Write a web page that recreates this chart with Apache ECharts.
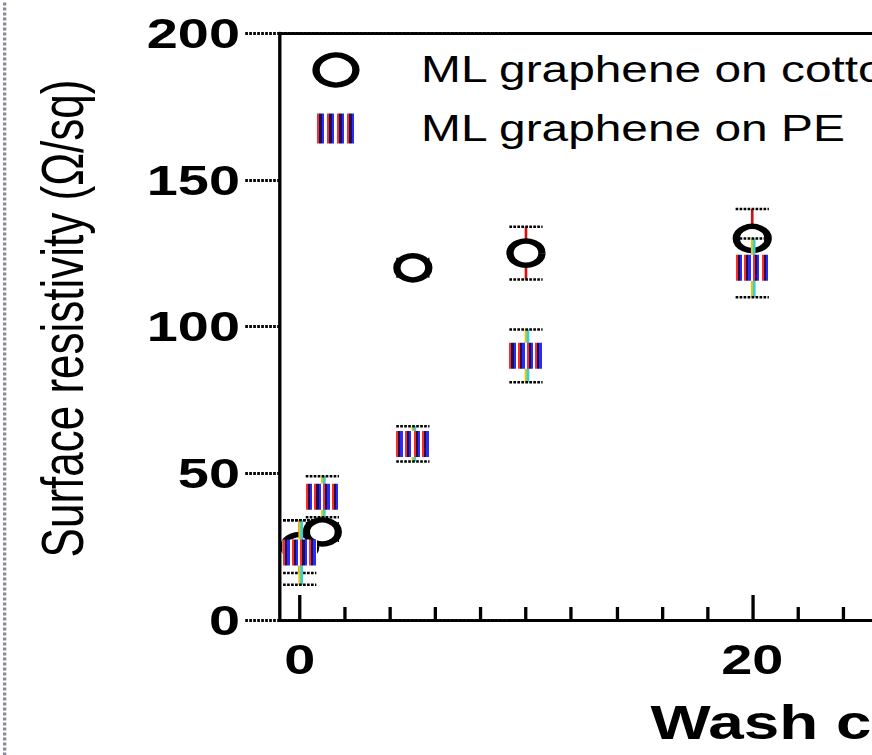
<!DOCTYPE html>
<html>
<head>
<meta charset="utf-8">
<script src="https://cdn.jsdelivr.net/npm/echarts@6/dist/echarts.min.js"></script>
<style>
html,body{margin:0;padding:0;background:#fff;overflow:hidden;}
#wrap{width:872px;height:755px;overflow:hidden;position:relative;background:#fff;}
#chart{width:1200px;height:755px;transform:scaleX(1.3293);transform-origin:0 0;}
</style>
</head>
<body>
<div id="wrap"><div id="chart"></div></div>
<script>
// ---- data ----
const washCycles = [0, 1, 5, 10, 20];
const cottonValues = [25, 30, 120, 125, 130];
const cottonErrors = [9, 3, 3, 9, 10];
const peValues = [23, 42, 60, 90, 120];
const peErrors = [11, 7, 6, 9, 10];
const seriesNames = ['ML graphene on cotton', 'ML graphene on PE'];
const yTickValues = [0, 50, 100, 150, 200];
const xLabelValues = [0, 20, 40];
const xMinorTickValues = [2, 4, 6, 8, 10, 12, 14, 16, 18, 22, 24, 26, 28, 30, 32, 34, 36, 38, 42, 44, 46, 48];
const xAxisTitle = 'Wash cycles';
const yAxisTitle = 'Surface resistivity (Ω/sq)';

const chart = echarts.init(document.getElementById('chart'), null, {renderer: 'svg'});

function stripeGradient() {
  const stops = [{offset: 0, color: '#ffffff'}];
  for (let i = 0; i < 4; i++) {
    const b = i / 4 + 0.02;
    stops.push({offset: b, color: '#ffffff'});
    stops.push({offset: b, color: '#ff2a2a'});
    stops.push({offset: b + 0.06, color: '#ff2a2a'});
    stops.push({offset: b + 0.06, color: '#1a1050'});
    stops.push({offset: b + 0.12, color: '#1a1050'});
    stops.push({offset: b + 0.12, color: '#2a2aff'});
    stops.push({offset: b + 0.19, color: '#2a2aff'});
    stops.push({offset: b + 0.19, color: '#ffffff'});
  }
  stops.push({offset: 1, color: '#ffffff'});
  return new echarts.graphic.LinearGradient(0, 0, 1, 0, stops);
}

function errData(vals, errs) {
  return washCycles.map((x, i) => [x, vals[i], errs[i]]);
}
function ptData(vals) {
  return washCycles.map((x, i) => [x, vals[i]]);
}

function errRender(lineColors) {
  return function (params, api) {
    const x = api.value(0), y = api.value(1), e = api.value(2);
    const top = api.coord([x, y + e]);
    const bot = api.coord([x, y - e]);
    const hw = 12.5;
    const children = [];
    lineColors.forEach((c, k) => {
      children.push({
        type: 'line',
        shape: {x1: top[0] + k * 1.5, y1: top[1], x2: bot[0] + k * 1.5, y2: bot[1]},
        style: {stroke: c, lineWidth: 2}
      });
    });
    [top, bot].forEach(p => {
      children.push({
        type: 'line',
        shape: {x1: p[0] - hw, y1: p[1], x2: p[0] + hw, y2: p[1]},
        style: {stroke: '#000', lineWidth: 2.5, lineDash: [2, 1]}
      });
    });
    return {type: 'group', children: children};
  };
}

const dotted = {color: '#000', width: 3, type: [2, 1]};

const baseX = {
  type: 'value', min: -0.88, max: 50, gridIndex: 0,
  splitLine: {show: false}
};

chart.setOption({
  animation: false,
  backgroundColor: '#fff',
  textStyle: {fontFamily: 'Liberation Sans'},
  grid: {left: 210.5, top: 33, height: 587, width: 866},
  legend: {
    orient: 'vertical', left: 235, top: 52, padding: 0,
    itemWidth: 30, itemHeight: 30, itemGap: 22.5,
    data: [
      {name: seriesNames[0], itemStyle: {borderWidth: 5.5, borderColor: '#000'}},
      {name: seriesNames[1]}
    ],
    textStyle: {fontSize: 36, color: '#000', fontFamily: 'Liberation Sans', padding: [0, 0, 0, 44]}
  },
  xAxis: [
    Object.assign({}, baseX, {
      position: 'bottom',
      name: xAxisTitle, nameLocation: 'middle', nameGap: 78,
      nameTextStyle: {fontSize: 48, fontWeight: 'bold', color: '#000', fontFamily: 'Liberation Sans', padding: [0, 22, 0, 0]},
      axisLine: {show: true, onZero: false, lineStyle: dotted},
      axisTick: {show: true, inside: true, length: 13, customValues: xMinorTickValues, lineStyle: {color: '#000', width: 2.5}},
      axisLabel: {show: false}
    }),
    Object.assign({}, baseX, {
      position: 'bottom',
      axisLine: {show: false, onZero: false},
      axisTick: {show: true, inside: true, length: 25, customValues: xLabelValues, lineStyle: {color: '#000', width: 2.5}},
      axisLabel: {show: true, customValues: xLabelValues, margin: 18, fontSize: 42, fontWeight: 'bold', color: '#000', fontFamily: 'Liberation Sans'}
    }),
    Object.assign({}, baseX, {
      position: 'top',
      axisLine: {show: true, onZero: false, lineStyle: dotted},
      axisTick: {show: false},
      axisLabel: {show: false}
    })
  ],
  yAxis: {
    type: 'value', min: 0, max: 200, interval: 50,
    name: yAxisTitle, nameLocation: 'middle', nameGap: 141, nameRotate: 90,
    nameTextStyle: {fontSize: 44, color: '#000', fontFamily: 'Liberation Sans', padding: [0, 0, 0, 16]},
    axisLine: {show: true, onZero: false, lineStyle: {color: '#000', width: 2.5}},
    axisTick: {show: true, inside: false, length: 26, customValues: yTickValues, lineStyle: dotted},
    axisLabel: {show: true, margin: 30, fontSize: 42, fontWeight: 'bold', color: '#000', fontFamily: 'Liberation Sans', customValues: yTickValues},
    splitLine: {show: false}
  },
  graphic: [{
    type: 'line', left: 1, top: 0, silent: true,
    shape: {x1: 0, y1: 0, x2: 0, y2: 755},
    style: {stroke: '#8a8a9a', lineWidth: 2.5, lineDash: [3, 2]}
  }],
  series: [
    {
      name: seriesNames[0] + ' err', type: 'custom', xAxisIndex: 0, yAxisIndex: 0,
      renderItem: errRender(['#d01010']), data: errData(cottonValues, cottonErrors), z: 2
    },
    {
      name: seriesNames[0], type: 'scatter', xAxisIndex: 0, yAxisIndex: 0,
      symbol: 'circle', symbolSize: 24,
      itemStyle: {color: '#fff', borderColor: '#000', borderWidth: 5.5, opacity: 1},
      data: ptData(cottonValues), z: 3
    },
    {
      name: seriesNames[1] + ' err', type: 'custom', xAxisIndex: 0, yAxisIndex: 0,
      renderItem: errRender(['#e8c800', '#30d0e0']), data: errData(peValues, peErrors), z: 4
    },
    {
      name: seriesNames[1], type: 'scatter', xAxisIndex: 0, yAxisIndex: 0,
      symbol: 'rect', symbolSize: [26, 26],
      itemStyle: {color: stripeGradient(), opacity: 1},
      data: ptData(peValues), z: 5
    }
  ]
});
</script>
</body>
</html>
